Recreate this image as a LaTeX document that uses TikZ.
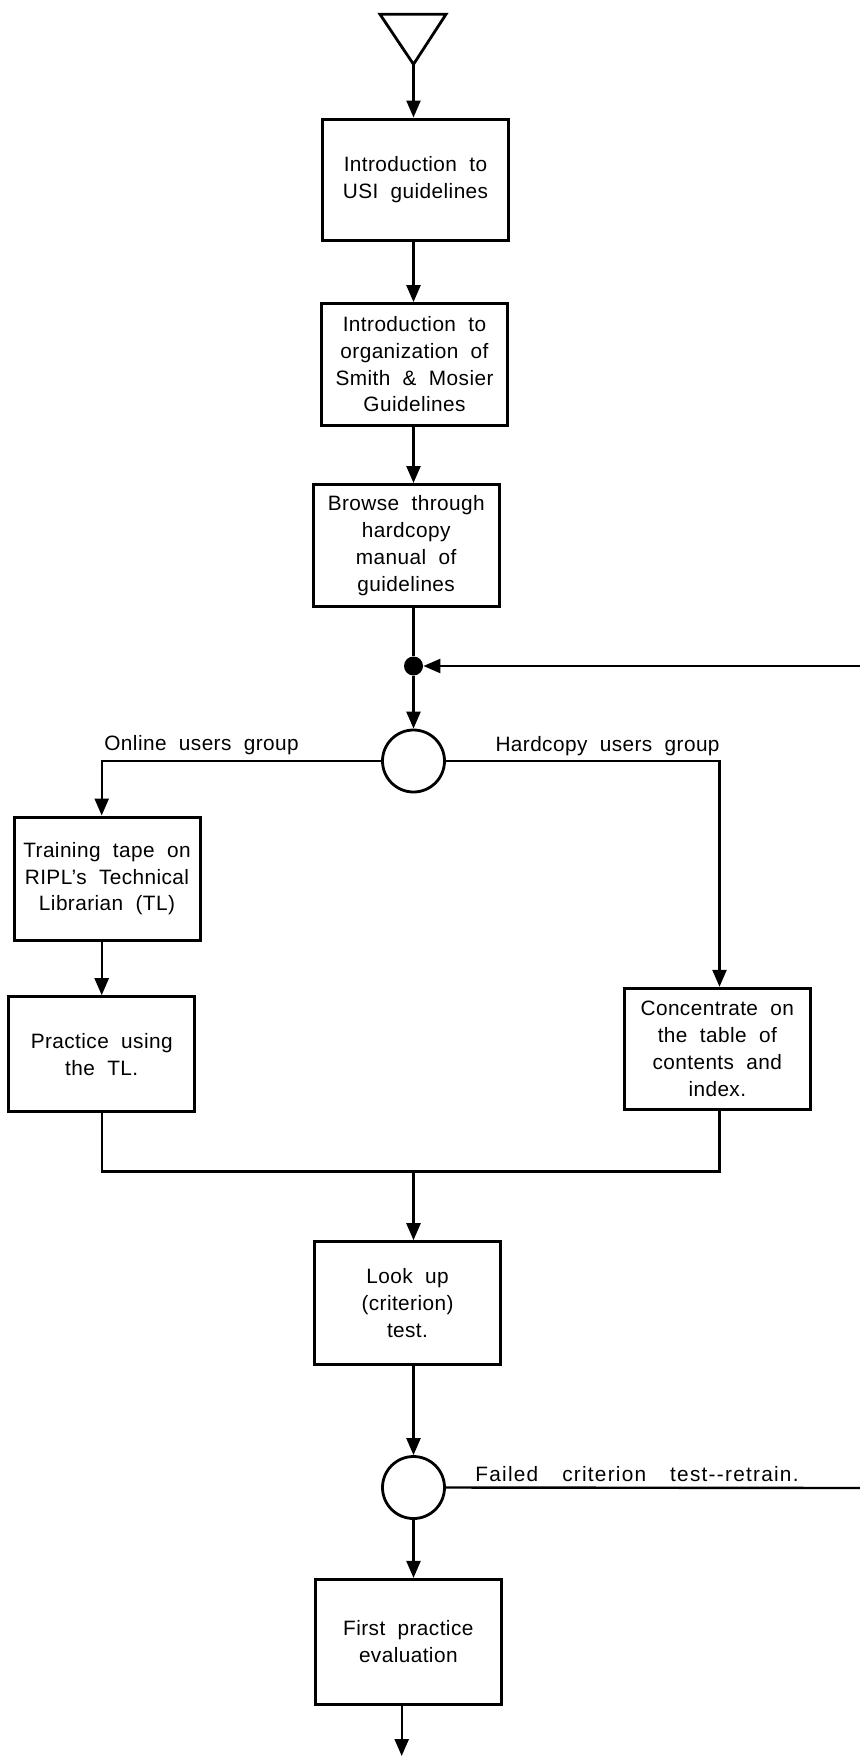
\documentclass[tikz,border=0pt]{standalone}
\usepackage{fontspec}
\setmainfont{Liberation Sans}[LetterSpace=2,WordSpace=2]
\usetikzlibrary{arrows.meta}
\begin{document}
\begin{tikzpicture}[x=0.5pt, y=-0.5pt,
  every node/.style={font=\fontsize{10.4}{13.4}\selectfont},
  stepbox/.style={draw, line width=1.5pt, align=center, inner sep=0pt,
    minimum width=93pt, minimum height=61pt},
  junction/.style={draw, circle, line width=1.4pt, minimum size=31pt, inner sep=0pt},
  flow/.style={line width=1.2pt},
  arrow/.style={flow, -{Triangle[length=8.5pt,width=7pt]}},
  lbl/.style={inner sep=0pt}
]
\useasboundingbox (0,0) rectangle (860,1756);

% entry marker
\draw[line width=1.4pt, line join=miter] (380,14.3) -- (446,14.3) -- (413.5,64.3) -- cycle;
\coordinate (start) at (413.5,64.3);

% columns used by the connectors
\coordinate (spine) at (413.5,0);
\coordinate (lcol) at (101.7,0);
\coordinate (rcol) at (719.5,0);

% process steps
\node[stepbox, minimum height=60.5pt] (b1) at (415.5,179.5) {Introduction to\\USI guidelines};
\node[stepbox, minimum height=60.7pt] (b2) at (414.5,364.3) {Introduction to\\organization of\\Smith \& Mosier\\Guidelines};
\node[stepbox] (b3) at (406.2,545.5) {Browse through\\hardcopy\\manual of\\guidelines};
\node[stepbox, minimum height=61.8pt] (b4) at (107,878.8) {Training tape on\\RIPL's Technical\\Librarian (TL)};
\node[stepbox, minimum height=57.5pt] (b5) at (101.7,1054.2) {Practice using\\the TL.};
\node[stepbox, minimum height=60.5pt] (b6) at (717.3,1048.8) {Concentrate on\\the table of\\contents and\\index.};
\node[stepbox, minimum height=61.6pt] (b7) at (407.5,1303.3) {Look up\\(criterion)\\test.};
\node[stepbox, minimum height=62.3pt] (b8) at (408.3,1641.7) {First practice\\evaluation};

% junctions
\node[circle, fill, inner sep=0pt, minimum size=9.5pt] (dot) at (413.5,666) {};
\node[junction] (c1) at (413.5,761) {};
\node[junction] (c2) at (413.5,1487.5) {};

% free ends at the page edge
\coordinate (fbin) at (860,666);
\coordinate (fbout) at (860,1488);
\coordinate (exit) at (401.7,1756);
\coordinate (join) at (413.5,1171.5);

% connectors
\draw[arrow] (start) -- (b1.north -| start);
\draw[arrow] (b1.south -| spine) -- (b2.north -| spine);
\draw[arrow] (b2.south -| spine) -- (b3.north -| spine);
\draw[flow] (b3.south -| spine) -- (dot);
\draw[arrow] (fbin) -- (dot);
\draw[arrow] (dot) -- (c1);
\draw[arrow] (c1.west) -| (b4.north -| lcol);
\draw[arrow] (c1.east) -| (b6.north -| rcol);
\draw[arrow] (b4.south -| lcol) -- (b5.north -| lcol);
\draw[flow] (b5.south -| lcol) |- (join) -| (b6.south -| rcol);
\draw[arrow] (join) -- (b7.north -| join);
\draw[arrow] (b7.south -| spine) -- (c2);
\draw[flow] (c2.east) -- (fbout);
\draw[arrow] (c2) -- (b8.north -| spine);
\draw[arrow] (b8.south -| exit) -- (exit);

% branch labels
\node[lbl, anchor=base west] (onl) at (104,750) {Online users group};
\node[lbl, anchor=base east] (hcl) at (720,751) {Hardcopy users group};
\node[lbl, anchor=base west] (fail) at (475,1481)
  {\addfontfeatures{LetterSpace=6}Failed\hspace{12pt}criterion\hspace{12pt}test-{}-retrain.};
\end{tikzpicture}
\end{document}
